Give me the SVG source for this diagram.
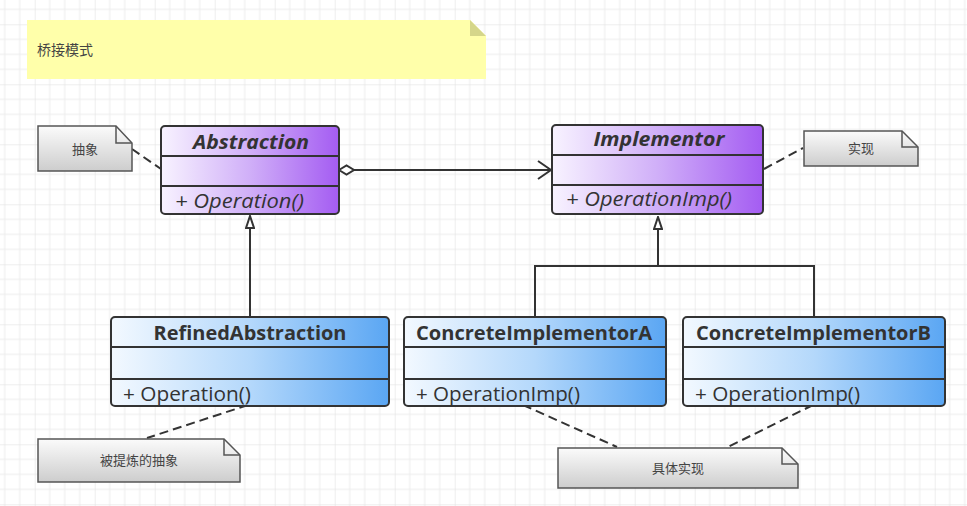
<svg xmlns="http://www.w3.org/2000/svg" width="967" height="506" viewBox="0 0 967 506">
<defs>
<pattern id="grid" patternUnits="userSpaceOnUse" x="34.7" y="24.3" width="60" height="60">
<path d="M15 0V60M30 0V60M45 0V60M0 15H60M0 30H60M0 45H60" stroke="#ececec" stroke-width="1" fill="none"/>
<path d="M0 0V60M0 0H60" stroke="#dedede" stroke-width="1" fill="none"/>
</pattern>
<linearGradient id="purple" x1="0" y1="0" x2="1" y2="0">
<stop offset="0" stop-color="#f8f3ff"/>
<stop offset="0.5" stop-color="#d0aff8"/>
<stop offset="1" stop-color="#a45cf2"/>
</linearGradient>
<linearGradient id="blue" x1="0" y1="0" x2="1" y2="0">
<stop offset="0" stop-color="#f3f9ff"/>
<stop offset="0.5" stop-color="#b4d8fb"/>
<stop offset="1" stop-color="#5aa6f3"/>
</linearGradient>
<linearGradient id="gray" x1="0" y1="0" x2="0" y2="1">
<stop offset="0" stop-color="#fbfbfb"/>
<stop offset="1" stop-color="#cdcdcd"/>
</linearGradient>
<marker id="hollowTri" viewBox="0 0 14 10" refX="13" refY="5" markerWidth="14" markerHeight="10" markerUnits="userSpaceOnUse" orient="auto">
<path d="M1 1 L13 5 L1 9 Z" fill="#ffffff" stroke="#333" stroke-width="2"/>
</marker>
<marker id="openArrow" viewBox="0 0 16 20" refX="14" refY="10" markerWidth="16" markerHeight="20" markerUnits="userSpaceOnUse" orient="auto">
<path d="M1 1 L14 10 L1 19" fill="none" stroke="#333" stroke-width="2"/>
</marker>
<marker id="diamond" viewBox="0 0 18 12" refX="1" refY="6" markerWidth="18" markerHeight="12" markerUnits="userSpaceOnUse" orient="auto">
<path d="M1 6 L8.5 1.5 L16 6 L8.5 10.5 Z" fill="#ffffff" stroke="#333" stroke-width="2"/>
</marker>
</defs>
<style>
.uml{stroke:#333;stroke-width:2}
.sep{stroke:#333;stroke-width:2}
.title{font-family:"Open Sans","Noto Sans","Liberation Sans",sans-serif;font-weight:bold;font-size:20px;fill:#333;text-anchor:middle}
.op{font-family:"Open Sans","Noto Sans","Liberation Sans",sans-serif;font-size:20px;fill:#333}
.note{fill:url(#gray);stroke:#555;stroke-width:1.5}
.ntext{font-family:"Noto Sans CJK SC",sans-serif;font-size:13px;fill:#444;text-anchor:middle}
.conn{stroke:#333;stroke-width:2;fill:none}
.dash{stroke:#333;stroke-width:2;fill:none;stroke-dasharray:9 5}
</style>
<rect width="967" height="506" fill="#ffffff"/>
<rect width="967" height="506" fill="url(#grid)"/>

<g id="title-note">
<path d="M27 20 H470 L486 36 V79 H27 Z" fill="#ffffaa"/>
<path d="M470 20 L486 36 H470 Z" fill="#d5d68a"/>
<text x="37" y="55" font-family="'Noto Sans CJK SC',sans-serif" font-size="14" fill="#444">桥接模式</text>
</g>

<g id="connectors">
<path class="conn" d="M339 170 H551" marker-start="url(#diamond)" marker-end="url(#openArrow)"/>
<path class="conn" d="M250 317 V216" marker-end="url(#hollowTri)"/>
<path class="conn" d="M535 317 V266 H814 V317"/>
<path class="conn" d="M658 266 V217" marker-end="url(#hollowTri)"/>
<path class="dash" d="M132 149 L161 169"/>
<path class="dash" d="M764 169 L803 148"/>
<path class="dash" d="M248 405 L147 438"/>
<path class="dash" d="M523 405 L617 447"/>
<path class="dash" d="M813 405 L728 447"/>
</g>

<g id="abstraction">
<rect class="uml" x="161" y="126" width="178" height="88" rx="4" fill="url(#purple)"/>
<path class="sep" d="M161 156 H339 M161 186 H339"/>
<text class="title" x="251" y="149" font-style="italic" textLength="116" lengthAdjust="spacingAndGlyphs">Abstraction</text>
<text class="op" x="175" y="208" font-style="italic" textLength="129" lengthAdjust="spacingAndGlyphs">+ Operation()</text>
</g>

<g id="implementor">
<rect class="uml" x="552" y="125" width="211" height="89" rx="4" fill="url(#purple)"/>
<path class="sep" d="M552 155 H763 M552 185 H763"/>
<text class="title" x="659" y="146" font-style="italic" textLength="131" lengthAdjust="spacingAndGlyphs">Implementor</text>
<text class="op" x="566" y="206" font-style="italic" textLength="166" lengthAdjust="spacingAndGlyphs">+ OperationImp()</text>
</g>

<g id="refined">
<rect class="uml" x="111" y="317" width="278" height="89" rx="4" fill="url(#blue)"/>
<path class="sep" d="M111 347 H389 M111 379 H389"/>
<text class="title" x="250" y="340" textLength="193" lengthAdjust="spacingAndGlyphs">RefinedAbstraction</text>
<text class="op" x="123" y="401" textLength="128" lengthAdjust="spacingAndGlyphs">+ Operation()</text>
</g>

<g id="concreteA">
<rect class="uml" x="404" y="317" width="262" height="89" rx="4" fill="url(#blue)"/>
<path class="sep" d="M404 347 H666 M404 379 H666"/>
<text class="title" x="534" y="340" textLength="236" lengthAdjust="spacingAndGlyphs">ConcreteImplementorA</text>
<text class="op" x="416" y="401" textLength="164" lengthAdjust="spacingAndGlyphs">+ OperationImp()</text>
</g>

<g id="concreteB">
<rect class="uml" x="683" y="317" width="262" height="89" rx="4" fill="url(#blue)"/>
<path class="sep" d="M683 347 H945 M683 379 H945"/>
<text class="title" x="813.5" y="340" textLength="235" lengthAdjust="spacingAndGlyphs">ConcreteImplementorB</text>
<text class="op" x="695" y="401" textLength="165" lengthAdjust="spacingAndGlyphs">+ OperationImp()</text>
</g>

<g id="note-abstract">
<path class="note" d="M38 126 H116 L132 143 V171 H38 Z"/>
<path d="M116 126 V143 H132" fill="none" stroke="#555" stroke-width="1.5"/>
<text class="ntext" x="85" y="154">抽象</text>
</g>

<g id="note-impl">
<path class="note" d="M804 131 H902 L918 147 V166 H804 Z"/>
<path d="M902 131 V147 H918" fill="none" stroke="#555" stroke-width="1.5"/>
<text class="ntext" x="861" y="153">实现</text>
</g>

<g id="note-refined">
<path class="note" d="M38 439 H224 L240 455 V482 H38 Z"/>
<path d="M224 439 V455 H240" fill="none" stroke="#555" stroke-width="1.5"/>
<text class="ntext" x="139" y="465">被提炼的抽象</text>
</g>

<g id="note-concrete">
<path class="note" d="M558 448 H782 L798 464 V488 H558 Z"/>
<path d="M782 448 V464 H798" fill="none" stroke="#555" stroke-width="1.5"/>
<text class="ntext" x="678" y="473">具体实现</text>
</g>
</svg>
